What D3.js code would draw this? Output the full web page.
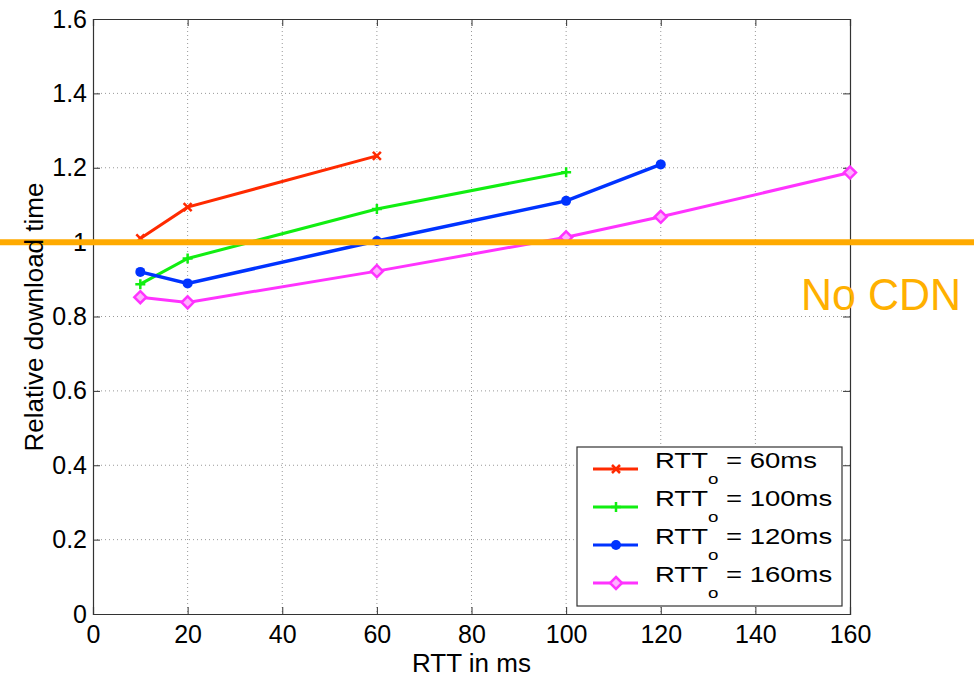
<!DOCTYPE html>
<html>
<head>
<meta charset="utf-8">
<script src="https://cdn.jsdelivr.net/npm/d3@7"></script>
<style>
  body { margin: 0; background: #fff; }
  text { font-family: "Liberation Sans", Arial, sans-serif; }
</style>
</head>
<body>
<div id="chart"></div>
<script>
// data
var rttValues = [10, 20, 60, 100, 120, 160];
var xTicks = [0, 20, 40, 60, 80, 100, 120, 140, 160];
var yTicks = [0, 0.2, 0.4, 0.6, 0.8, 1, 1.2, 1.4, 1.6];

var series60 = [1.01, 1.094, 1.232];
var series100 = [0.887, 0.956, 1.089, 1.188];
var series120 = [0.92, 0.889, 1.003, 1.111, 1.209];
var series160 = [0.852, 0.838, 0.922, 1.013, 1.068, 1.187];

var seriesNames = ["60ms", "100ms", "120ms", "160ms"];
var seriesColors = ["#ff2a00", "#11ee11", "#0033ff", "#ff33ff"];
var seriesMarkers = ["x", "plus", "circle", "diamond"];
var baseline = 1;

var svgWidth = 974, svgHeight = 677;
var margin = { top: 19, right: 124, bottom: 63, left: 93 };
var width = svgWidth - margin.left - margin.right;
var height = svgHeight - margin.top - margin.bottom;

var svg = d3.select("#chart").append("svg")
    .attr("width", svgWidth)
    .attr("height", svgHeight);

var chartGroup = svg.append("g")
    .attr("transform", `translate(${margin.left}, ${margin.top})`);

var xScale = d3.scaleLinear().domain([0, 160]).range([0, width]);
var yScale = d3.scaleLinear().domain([0, 1.6]).range([height, 0]);

// grid
chartGroup.append("g").selectAll("line")
    .data(xTicks.slice(1, -1))
    .enter().append("line")
    .attr("x1", d => xScale(d)).attr("x2", d => xScale(d))
    .attr("y1", 0).attr("y2", height)
    .attr("stroke", "#999").attr("stroke-dasharray", "1,3");
chartGroup.append("g").selectAll("line")
    .data(yTicks.slice(1, -1))
    .enter().append("line")
    .attr("y1", d => yScale(d)).attr("y2", d => yScale(d))
    .attr("x1", 0).attr("x2", width)
    .attr("stroke", "#999").attr("stroke-dasharray", "1,3");

// axes, ticks inside like matlab
var bottomAxis = d3.axisBottom(xScale).tickValues(xTicks).tickSize(-7).tickPadding(11).tickFormat(d3.format("d"));
var leftAxis = d3.axisLeft(yScale).tickValues(yTicks).tickSize(-7).tickPadding(6)
    .tickFormat(d => (d === 0 || d === 1) ? String(d) : d3.format(".1f")(d));
var topAxis = d3.axisTop(xScale).tickValues(xTicks).tickSize(-7).tickFormat("");
var rightAxis = d3.axisRight(yScale).tickValues(yTicks).tickSize(-7).tickFormat("");

chartGroup.append("g").attr("class", "axis").attr("transform", `translate(0, ${height})`).call(bottomAxis);
chartGroup.append("g").attr("class", "axis").call(leftAxis);
chartGroup.append("g").attr("class", "axis").call(topAxis);
chartGroup.append("g").attr("class", "axis").attr("transform", `translate(${width}, 0)`).call(rightAxis);

chartGroup.selectAll(".axis path").attr("stroke", "#333").attr("stroke-width", 1.2);
chartGroup.selectAll(".axis line").attr("stroke", "#333");
chartGroup.selectAll(".axis text").attr("font-size", "25px").attr("fill", "#000")
    .attr("font-family", "Liberation Sans, Arial, sans-serif");

// markers
function drawMarker(g, type, color, x, y) {
    if (type === "x") {
        g.append("path").attr("d", `M${x-4},${y-4}L${x+4},${y+4}M${x-4},${y+4}L${x+4},${y-4}`)
            .attr("stroke", color).attr("stroke-width", 2.5);
    } else if (type === "plus") {
        g.append("path").attr("d", `M${x-5},${y}L${x+5},${y}M${x},${y-5}L${x},${y+5}`)
            .attr("stroke", color).attr("stroke-width", 2.5);
    } else if (type === "circle") {
        g.append("circle").attr("cx", x).attr("cy", y).attr("r", 5).attr("fill", color);
    } else {
        g.append("path").attr("d", `M${x},${y-6}L${x+6},${y}L${x},${y+6}L${x-6},${y}Z`)
            .attr("stroke", color).attr("stroke-width", 2.5).attr("fill", "#ffb0ff");
    }
}

var allSeries = [series60, series100, series120, series160];
var line = d3.line().x((d, i) => xScale(rttValues[i])).y(d => yScale(d));

allSeries.forEach(function(vals, s) {
    var g = chartGroup.append("g");
    g.append("path").datum(vals).attr("d", line)
        .attr("fill", "none").attr("stroke", seriesColors[s]).attr("stroke-width", s === 2 ? 3.5 : 3);
    vals.forEach(function(v, i) {
        drawMarker(g, seriesMarkers[s], seriesColors[s], xScale(rttValues[i]), yScale(v));
    });
});

// No CDN reference line across whole picture
svg.append("line")
    .attr("x1", 0).attr("x2", svgWidth)
    .attr("y1", margin.top + yScale(baseline)).attr("y2", margin.top + yScale(baseline))
    .attr("stroke", "#ffaa00").attr("stroke-width", 6);

svg.append("text")
    .attr("x", 801).attr("y", 310)
    .attr("font-family", "Open Sans, DejaVu Sans, sans-serif")
    .attr("font-size", "45px")
    .attr("textLength", 160)
    .attr("lengthAdjust", "spacingAndGlyphs")
    .attr("fill", "#ffb000")
    .text("No CDN");

// legend
var legend = chartGroup.append("g").attr("transform", `translate(${577 - margin.left}, ${447 - margin.top})`);
legend.append("rect").attr("width", 265).attr("height", 159)
    .attr("fill", "#fff").attr("stroke", "#333").attr("stroke-width", 1.2);
seriesNames.forEach(function(name, s) {
    var y = 22 + s * 38;
    legend.append("line").attr("x1", 16).attr("x2", 61).attr("y1", y).attr("y2", y)
        .attr("stroke", seriesColors[s]).attr("stroke-width", 3);
    drawMarker(legend, seriesMarkers[s], seriesColors[s], 39, y);
    var t = legend.append("text")
        .attr("transform", `translate(78, ${y - 1}) scale(1.25, 1)`)
        .attr("font-size", "22px").attr("fill", "#000");
    t.append("tspan").text("RTT");
    t.append("tspan").attr("dy", 16).attr("font-size", "15px").text("o");
    t.append("tspan").attr("dy", -16).text(" = " + name);
});

// axis titles
svg.append("text")
    .attr("x", margin.left + width / 2).attr("y", 672)
    .attr("text-anchor", "middle").attr("font-size", "26px")
    .text("RTT in ms");
svg.append("text")
    .attr("transform", "rotate(-90)")
    .attr("x", -317).attr("y", 43)
    .attr("text-anchor", "middle").attr("font-size", "26px")
    .text("Relative download time");
</script>
</body>
</html>
